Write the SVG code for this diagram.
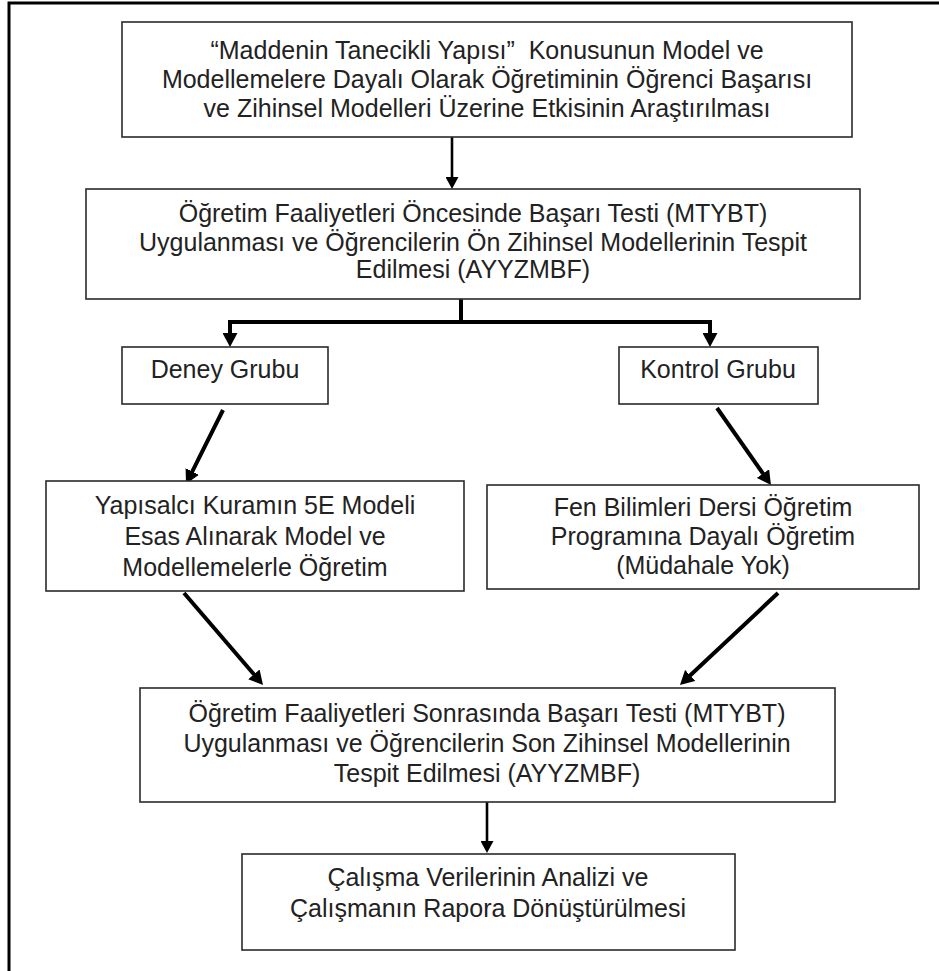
<svg xmlns="http://www.w3.org/2000/svg" width="939" height="971" viewBox="0 0 939 971">
<defs>
<style>
.box{fill:#fff;stroke:#2a2a2a;stroke-width:1.6}
.t{font-family:"Liberation Sans",Arial,sans-serif;font-size:25px;fill:#222;text-anchor:middle}
.thin{stroke:#000;stroke-width:2.6;fill:none}
.thick{stroke:#000;stroke-width:4;fill:none}
.frame{stroke:#000;stroke-width:3;fill:none}
</style>
<marker id="ahs" markerUnits="userSpaceOnUse" markerWidth="13" markerHeight="13" refX="5" refY="6.5" orient="auto">
<path d="M0,0 L12,6.5 L0,13 z" fill="#000"/>
</marker>
<marker id="ahb" markerUnits="userSpaceOnUse" markerWidth="15" markerHeight="15" refX="6" refY="7.5" orient="auto">
<path d="M0,0 L14,7.5 L0,15 z" fill="#000"/>
</marker>
</defs>
<rect width="939" height="971" fill="#fff"/>
<path class="frame" d="M9,971 L9,3 L939,3"/>

<g id="connectors">
<line class="thin" x1="452" y1="137" x2="452" y2="182" marker-end="url(#ahs)"/>
<path class="thick" d="M461,299 L461,322"/>
<path class="thick" d="M228,322 L712,322"/>
<line class="thick" x1="230" y1="322" x2="230" y2="339" marker-end="url(#ahb)"/>
<line class="thick" x1="710" y1="322" x2="710" y2="339" marker-end="url(#ahb)"/>
<line class="thick" x1="223" y1="410" x2="189.6" y2="476.8" marker-end="url(#ahb)"/>
<line class="thick" x1="717" y1="408" x2="766.4" y2="478.5" marker-end="url(#ahb)"/>
<line class="thick" x1="184" y1="593" x2="257.8" y2="678.9" marker-end="url(#ahb)"/>
<line class="thick" x1="778" y1="593" x2="685.8" y2="679.5" marker-end="url(#ahb)"/>
<line class="thin" x1="487" y1="802" x2="487" y2="846" marker-end="url(#ahs)"/>
</g>

<g id="n1">
<rect class="box" x="122" y="22" width="730" height="115"/>
<text class="t" x="487" xml:space="preserve"><tspan x="487" y="59">“Maddenin Tanecikli Yapısı”  Konusunun Model ve</tspan><tspan x="487" y="88">Modellemelere Dayalı Olarak Öğretiminin Öğrenci Başarısı</tspan><tspan x="487" y="117">ve Zihinsel Modelleri Üzerine Etkisinin Araştırılması</tspan></text>
</g>

<g id="n2">
<rect class="box" x="86" y="189" width="774" height="110"/>
<text class="t"><tspan x="473" y="222">Öğretim Faaliyetleri Öncesinde Başarı Testi (MTYBT)</tspan><tspan x="473" y="251">Uygulanması ve Öğrencilerin Ön Zihinsel Modellerinin Tespit</tspan><tspan x="473" y="278">Edilmesi (AYYZMBF)</tspan></text>
</g>

<g id="n3">
<rect class="box" x="122" y="347" width="206" height="57"/>
<text class="t" x="225" y="378">Deney Grubu</text>
</g>

<g id="n4">
<rect class="box" x="619" y="347" width="199" height="57"/>
<text class="t" x="718" y="378">Kontrol Grubu</text>
</g>

<g id="n5">
<rect class="box" x="46" y="481" width="418" height="110"/>
<text class="t"><tspan x="255" y="514">Yapısalcı Kuramın 5E Modeli</tspan><tspan x="255" y="545">Esas Alınarak Model ve</tspan><tspan x="255" y="576">Modellemelerle Öğretim</tspan></text>
</g>

<g id="n6">
<rect class="box" x="487" y="485" width="432" height="104"/>
<text class="t"><tspan x="703" y="516">Fen Bilimleri Dersi Öğretim</tspan><tspan x="703" y="545">Programına Dayalı Öğretim</tspan><tspan x="703" y="574">(Müdahale Yok)</tspan></text>
</g>

<g id="n7">
<rect class="box" x="140" y="688" width="695" height="114"/>
<text class="t"><tspan x="487" y="722">Öğretim Faaliyetleri Sonrasında Başarı Testi (MTYBT)</tspan><tspan x="487" y="752">Uygulanması ve Öğrencilerin Son Zihinsel Modellerinin</tspan><tspan x="487" y="782">Tespit Edilmesi (AYYZMBF)</tspan></text>
</g>

<g id="n8">
<rect class="box" x="242" y="854" width="493" height="96"/>
<text class="t"><tspan x="488" y="886">Çalışma Verilerinin Analizi ve</tspan><tspan x="488" y="917">Çalışmanın Rapora Dönüştürülmesi</tspan></text>
</g>
</svg>
